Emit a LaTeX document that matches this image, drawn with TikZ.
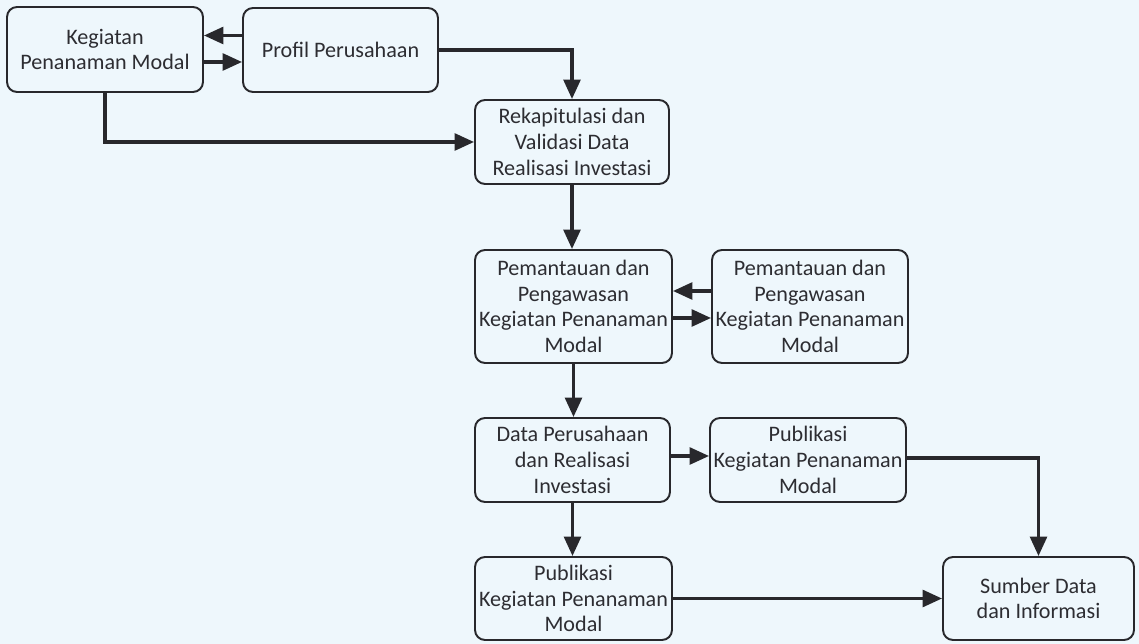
\documentclass[tikz,border=0pt]{standalone}
\usepackage{fontspec}
\setmainfont{Carlito}
\usepackage{xcolor}
\usetikzlibrary{arrows.meta}

\definecolor{paper}{RGB}{238,247,252}
\definecolor{ink}{RGB}{40,40,44}
\definecolor{txt}{RGB}{45,45,50}

\tikzset{
	box/.style={draw=ink, line width=1.1pt, rounded corners=0.2cm, fill=none,
		align=center, inner sep=0pt, text=txt,
		font=\fontsize{12.6}{14.6}\selectfont},
	link/.style={draw=ink, line width=1.9pt, -{Triangle[length=11pt,width=9.5pt]}}
}

\begin{document}
\begin{tikzpicture}[x=0.02cm, y=-0.02cm]
		\fill[paper] (0,0) rectangle (1139,644);
		\useasboundingbox (0,0) rectangle (1139,644);
		% top row
		\node[box, minimum width=3.92cm, minimum height=1.7cm] (kegiatan) at (105,49.5) {Kegiatan\\Penanaman Modal};
		\node[box, minimum width=3.9cm, minimum height=1.68cm] (profil) at (340.5,50) {Profil Perusahaan};
		\node[box, minimum width=3.88cm, minimum height=1.68cm] (rekap) at (572,142) {Rekapitulasi dan\\Validasi Data\\Realisasi Investasi};
		% middle
		\node[box, minimum width=3.94cm, minimum height=2.26cm] (pantau) at (573.5,306.5) {Pemantauan dan\\Pengawasan\\Kegiatan Penanaman\\Modal};
		\node[box, minimum width=3.92cm, minimum height=2.26cm] (pantaukanan) at (810,306.5) {Pemantauan dan\\Pengawasan\\Kegiatan Penanaman\\Modal};
		\node[box, minimum width=3.9cm, minimum height=1.68cm] (dataper) at (572.5,460) {Data Perusahaan\\dan Realisasi\\Investasi};
		\node[box, minimum width=3.92cm, minimum height=1.68cm] (publikanan) at (808,460) {Publikasi\\Kegiatan Penanaman\\Modal};
		% bottom row
		\node[box, minimum width=3.94cm, minimum height=1.66cm] (publibawah) at (573.5,598.5) {Publikasi\\Kegiatan Penanaman\\Modal};
		\node[box, minimum width=3.82cm, minimum height=1.66cm] (sumber) at (1038.5,598.5) {Sumber Data\\dan Informasi};
		% arrows
		\draw[link] ([yshift=0.29cm]profil.west) -- ([yshift=0.29cm]profil.west -| kegiatan.east);
		\draw[link] ([yshift=-0.25cm]kegiatan.east) -- ([yshift=-0.25cm]kegiatan.east -| profil.west);
		\draw[link] (profil.east) -| (rekap.north);
		\draw[link] (kegiatan.south) |- (rekap.west);
		\draw[link] (rekap.south) -- (rekap.south |- pantau.north);
		\draw[link] ([yshift=0.31cm]pantaukanan.west) -- ([yshift=0.31cm]pantaukanan.west -| pantau.east);
		\draw[link] ([yshift=-0.23cm]pantau.east) -- ([yshift=-0.23cm]pantau.east -| pantaukanan.west);
		\draw[link] (pantau.south) -- (pantau.south |- dataper.north);
		\draw[link] ([yshift=0.08cm]dataper.east) -- ([yshift=0.08cm]dataper.east -| publikanan.west);
		\draw[link] (dataper.south) -- (dataper.south |- publibawah.north);
		\draw[link] ([yshift=0.04cm]publikanan.east) -| (sumber.north);
		\draw[link] (publibawah.east) -- (publibawah.east -| sumber.west);
\end{tikzpicture}
\end{document}
